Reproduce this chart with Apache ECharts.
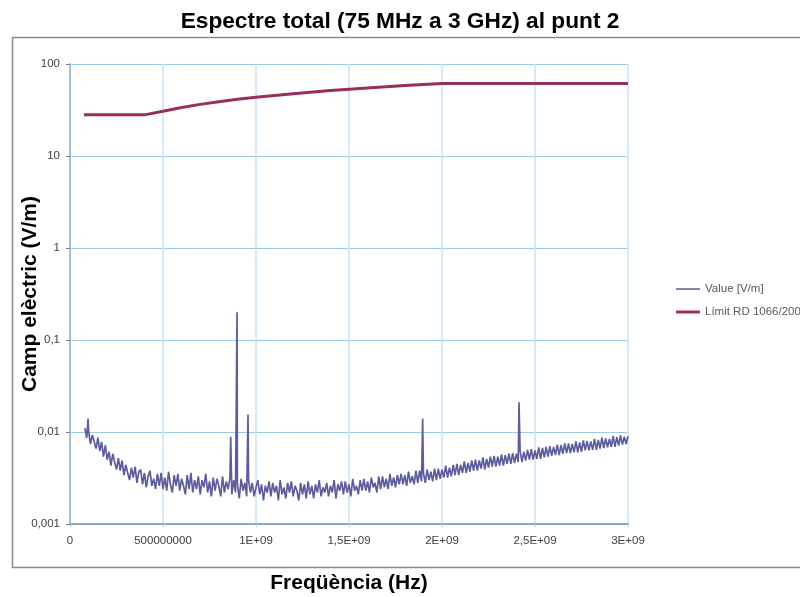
<!DOCTYPE html>
<html>
<head>
<meta charset="utf-8">
<script src="https://cdn.jsdelivr.net/npm/echarts@6/dist/echarts.min.js"></script>
<style>
html,body{margin:0;padding:0;background:#fff;}
#c{width:800px;height:597px;}
</style>
</head>
<body>
<div id="c"></div>
<script>
// ---- data ----
var chartTitle = 'Espectre total (75 MHz a 3 GHz) al punt 2';
var xAxisName = 'Freqüència (Hz)';
var yAxisName = 'Camp elèctric (V/m)';
var seriesNames = ['Value [V/m]', 'Límit RD 1066/2001'];
var xTickLabels = ['0', '500000000', '1E+09', '1,5E+09', '2E+09', '2,5E+09', '3E+09'];
var yTickLabels = ['0,001', '0,01', '0,1', '1', '10', '100'];

// measured spectrum sampled every 10 MHz from 80 MHz, values in mV/m
var spectrumStartMHz = 80;
var spectrumStepMHz = 10;
var spectrumMilliVm = [
  11.0, 8.6, 10.2, 7.4, 9.3, 7.9, 6.6, 8.7, 6.2, 7.8,
  5.4, 7.2, 5.0, 6.1, 4.3, 5.8, 4.7, 3.9, 5.2, 3.8,
  4.9, 3.4, 4.4, 3.6, 3.0, 4.1, 3.2, 4.2, 2.8, 3.7,
  3.9, 2.7, 3.6, 2.5, 3.3, 3.8, 2.6, 3.1, 2.4, 3.5,
  2.6, 3.6, 2.4, 3.2, 2.3, 3.7, 2.7, 2.2, 3.4, 2.6,
  3.5, 2.3, 3.1, 2.6, 2.1, 3.4, 2.4, 3.6, 2.2, 3.0,
  2.4, 3.3, 2.1, 3.0, 2.5, 3.5, 2.2, 2.9, 2.0, 3.2,
  2.3, 3.1, 2.6, 2.0, 3.3, 2.2, 2.9, 2.4, 3.2, 2.1,
  3.0, 2.2, 2.7, 1.9, 3.1, 2.3, 2.8, 2.0, 3.0, 2.2,
  2.8, 2.0, 2.5, 3.0, 2.1, 2.7, 1.8, 2.6, 2.2, 2.9,
  2.0, 2.8, 2.2, 2.6, 1.8, 3.0, 2.1, 2.5, 1.9, 2.8,
  2.2, 2.9, 2.0, 2.6, 2.3, 1.8, 2.8, 2.1, 2.7, 1.9,
  2.9, 2.1, 2.6, 1.9, 2.7, 2.2, 3.0, 2.0, 2.5, 2.2,
  2.8, 2.0, 2.6, 2.2, 3.0, 1.9, 2.7, 2.3, 2.9, 2.1,
  2.9, 2.2, 2.7, 2.0, 3.1, 2.3, 2.6, 2.1, 3.0, 2.3,
  3.1, 2.3, 2.9, 2.2, 3.2, 2.5, 2.8, 2.2, 3.3, 2.4,
  3.3, 2.5, 3.1, 2.4, 3.5, 2.6, 3.2, 2.5, 3.4, 2.7,
  3.5, 2.7, 3.4, 2.6, 3.7, 2.8, 3.3, 2.7, 3.8, 2.8,
  3.8, 2.9, 3.6, 2.8, 3.9, 3.0, 3.7, 2.9, 4.0, 3.0,
  4.0, 3.1, 3.9, 3.2, 4.3, 3.2, 4.1, 3.3, 4.4, 3.4,
  4.5, 3.4, 4.4, 3.6, 4.8, 3.6, 4.6, 3.7, 4.9, 3.8,
  5.0, 3.8, 4.9, 4.0, 5.3, 3.9, 5.1, 4.1, 5.4, 4.2,
  5.5, 4.2, 5.4, 4.3, 5.7, 4.3, 5.6, 4.5, 5.8, 4.5,
  5.9, 4.6, 5.8, 4.7, 6.2, 4.7, 6.1, 4.9, 6.4, 5.0,
  6.5, 5.0, 6.3, 5.1, 6.8, 5.1, 6.7, 5.3, 6.9, 5.4,
  7.0, 5.5, 6.9, 5.6, 7.3, 5.6, 7.2, 5.8, 7.5, 5.9,
  7.5, 5.9, 7.4, 6.0, 7.9, 6.0, 7.7, 6.1, 8.1, 6.3,
  8.0, 6.3, 7.9, 6.4, 8.4, 6.4, 8.2, 6.6, 8.7, 6.7,
  8.5, 6.8, 8.4, 6.9, 9.1, 6.9, 8.8, 7.1, 9.2, 7.3,
  8.9, 7.4, 9.0
];
// narrow emission peaks [MHz, mV/m]
var spikesMHz = [97, 864, 898, 957, 1896, 2414];
var spikesMilliVm = [14, 8.9, 200, 15.5, 14, 21];

// RD 1066/2001 reference level [MHz, V/m]
var limitMHz = [75, 400, 500, 600, 700, 800, 900, 1000, 1200, 1400, 1600, 1800, 2000, 3000];
var limitVm = [28, 28, 30.7, 33.7, 36.4, 38.9, 41.3, 43.5, 47.6, 51.4, 55, 58.3, 61.5, 61.5];

// ---- build series data ----
var valuePts = spectrumMilliVm.map(function (v, i) {
  return [(spectrumStartMHz + i * spectrumStepMHz) * 1e6, v / 1000];
});
spikesMHz.forEach(function (f, i) { valuePts.push([f * 1e6, spikesMilliVm[i] / 1000]); });
valuePts.sort(function (a, b) { return a[0] - b[0]; });
var limitPts = limitMHz.map(function (f, i) { return [f * 1e6, limitVm[i]]; });

var xTickMap = {};
xTickLabels.forEach(function (l, i) { xTickMap[i * 5e8] = l; });
var yTickMap = {};
yTickLabels.forEach(function (l, i) { yTickMap[i - 3] = l; });

var FONT = 'Liberation Sans, Arial';
var valueColor = '#5d5d9d';
var limitColor = '#98305f';

var chart = echarts.init(document.getElementById('c'), null, { renderer: 'canvas' });
chart.setOption({
  animation: false,
  backgroundColor: '#ffffff',
  title: {
    text: chartTitle, left: 'center', top: 5,
    textStyle: { fontFamily: FONT, fontSize: 22.7, fontWeight: 'bold', color: '#000' }
  },
  graphic: [{
    type: 'rect', silent: true, z: -1,
    shape: { x: 12.5, y: 37.5, width: 800, height: 530 },
    style: { fill: 'none', stroke: '#8a8a8a', lineWidth: 1.5 }
  }],
  legend: [{
    orient: 'vertical', left: 676, top: 283, padding: 0,
    icon: 'rect', itemWidth: 24, itemHeight: 1.5, itemGap: 4,
    textStyle: { fontFamily: FONT, fontSize: 11.5, color: '#595959' },
    data: [seriesNames[0]]
  }, {
    orient: 'vertical', left: 676, top: 306, padding: 0,
    icon: 'rect', itemWidth: 24, itemHeight: 3, itemGap: 4,
    textStyle: { fontFamily: FONT, fontSize: 11.5, color: '#595959' },
    data: [seriesNames[1]]
  }],
  grid: { left: 70, right: 172, top: 64, bottom: 73, containLabel: false, outerBoundsMode: 'none' },
  xAxis: {
    type: 'value', min: 0, max: 3e9, interval: 5e8,
    name: xAxisName, nameLocation: 'middle', nameGap: 49, nameMoveOverlap: false,
    nameTextStyle: { fontFamily: FONT, fontSize: 21, fontWeight: 'bold', color: '#000' },
    axisLine: { lineStyle: { color: '#8795a5', width: 1.5 } },
    axisTick: { show: true, length: 3, lineStyle: { color: '#b5cde4' } },
    axisLabel: {
      margin: 11, fontFamily: FONT, fontSize: 11.5, color: '#404040',
      formatter: function (v) { return xTickMap[v] !== undefined ? xTickMap[v] : ''; }
    },
    splitLine: { show: true, lineStyle: { color: '#cde3f5', width: 1.5 } }
  },
  yAxis: {
    type: 'log', logBase: 10, min: 0.001, max: 100,
    name: yAxisName, nameLocation: 'middle', nameGap: 29, nameMoveOverlap: false,
    nameTextStyle: { fontFamily: FONT, fontSize: 21, fontWeight: 'bold', color: '#000' },
    axisLine: { show: true, lineStyle: { color: '#a8bcd0', width: 2 } },
    axisTick: { show: true, length: 4, lineStyle: { color: '#808080' } },
    axisLabel: {
      margin: 10, fontFamily: FONT, fontSize: 11.5, color: '#404040',
      formatter: function (v) {
        var e = Math.round(Math.log10(v));
        return yTickMap[e] !== undefined ? yTickMap[e] : '';
      }
    },
    splitLine: { show: true, lineStyle: { color: '#9ccaea', width: 1 } }
  },
  series: [{
    name: seriesNames[0], type: 'line', data: valuePts, symbol: 'none',
    sampling: 'none', z: 3,
    lineStyle: { color: valueColor, width: 1.7 },
    itemStyle: { color: valueColor }
  }, {
    name: seriesNames[1], type: 'line', data: limitPts, symbol: 'none', z: 4,
    lineStyle: { color: limitColor, width: 3 },
    itemStyle: { color: limitColor }
  }]
});
</script>
</body>
</html>
